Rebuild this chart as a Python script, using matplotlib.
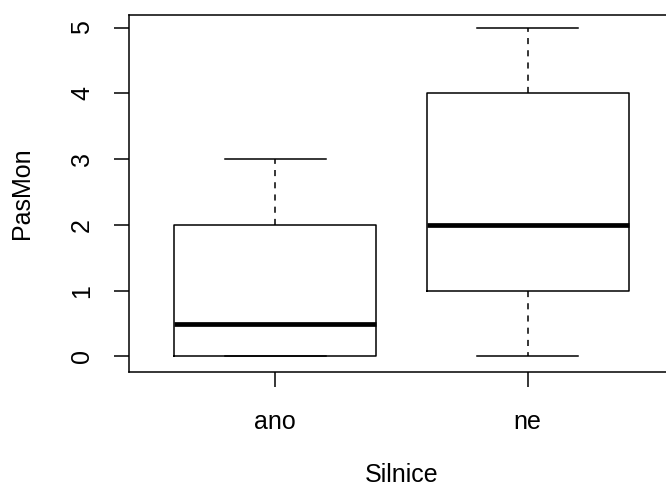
import matplotlib
matplotlib.use("Agg")
import matplotlib.pyplot as plt

plt.rcParams['font.family'] = ['Liberation Sans', 'DejaVu Sans']

# summary of PasMon by Silnice
groups = ['ano', 'ne']
whis_lo = [0, 0]
q1 = [0, 1]
medians = [0.5, 2]
q3 = [2, 4]
whis_hi = [3, 5]

stats = []
for g, lo, a, m, b, hi in zip(groups, whis_lo, q1, medians, q3, whis_hi):
    stats.append(dict(label=g, whislo=lo, q1=a, med=m, q3=b, whishi=hi, fliers=[]))

fig = plt.figure(figsize=(6.66, 4.90), dpi=100)
# plot region runs a bit past the right edge of the saved image
ax = fig.add_axes([129/666, 1 - 371.5/490, 545/666, 356.5/490])

lw = 1.1
ax.bxp(stats, positions=[1, 2], widths=0.8, capwidths=0.4,
       boxprops=dict(color='black', linewidth=lw),
       whiskerprops=dict(color='black', linewidth=lw, linestyle=(0, (4, 4))),
       capprops=dict(color='black', linewidth=lw),
       medianprops=dict(color='black', linewidth=3.4, solid_capstyle='butt'),
       showfliers=False)

ax.set_xlim(0.42, 2.58)
ax.set_ylim(-0.228, 5.19)
ax.set_yticks(range(6))
ax.set_xticks([1, 2])
ax.set_xticklabels(groups)

for s in ax.spines.values():
    s.set_linewidth(lw)
    s.set_color('black')

ax.tick_params(axis='both', direction='out', length=10.8, width=lw, color='black',
               labelsize=18, labelcolor='black')
ax.tick_params(axis='y', pad=14.4)
ax.tick_params(axis='x', pad=16.6)
for t in ax.get_yticklabels():
    t.set_rotation(90)
    t.set_va('center')

ax.set_xlabel('Silnice', fontsize=18, labelpad=21.5)
ax.set_ylabel('PasMon', fontsize=18, labelpad=26)

fig.savefig('out.png', dpi=100)
